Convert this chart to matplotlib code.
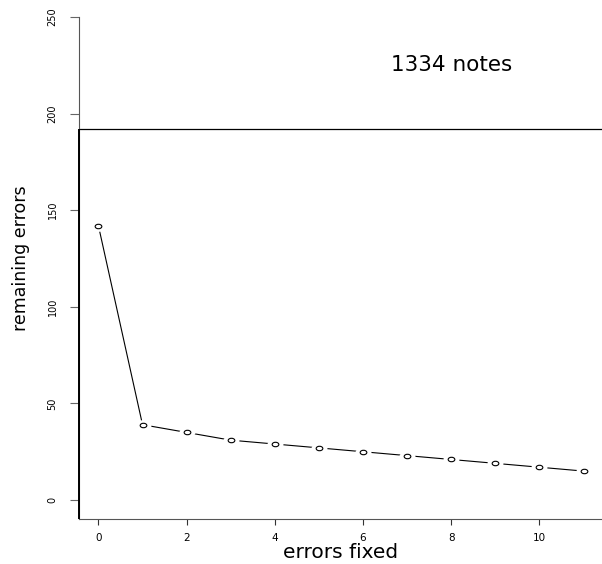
import matplotlib
matplotlib.use("Agg")
import matplotlib.pyplot as plt
from matplotlib.path import Path
from matplotlib.transforms import Affine2D

# ---- data ----
errors_fixed = [0, 1, 2, 3, 4, 5, 6, 7, 8, 9, 10, 11]
remaining_errors = [142, 39, 35, 31, 29, 27, 25, 23, 21, 19, 17, 15]
reference_level = 192
annotation = "1334 notes"
annotation_pos = (8, 225)
x_ticks = [0, 2, 4, 6, 8, 10]
y_ticks = [0, 50, 100, 150, 200, 250]
x_label = "errors fixed"
y_label = "remaining errors"

plt.rcParams['font.family'] = ['DejaVu Sans']

fig = plt.figure(figsize=(6.02, 5.64), dpi=100)
W, H = 602, 564
left_px, right_px, top_px, bottom_px = 79, 603, 17, 519
ax = fig.add_axes([left_px / W, 1 - bottom_px / H,
                   (right_px - left_px) / W, (bottom_px - top_px) / H])

xlim = (-0.44, 11.44)
ylim = (-9.8, 250)
ax.set_xlim(*xlim)
ax.set_ylim(*ylim)

ellipse = Path.unit_circle().transformed(Affine2D().scale(1.5, 1.0))

# connecting line (R type="b": gaps around points)
ax.plot(errors_fixed, remaining_errors, color='black', lw=0.8, zorder=2)
ax.plot(errors_fixed, remaining_errors, linestyle='none', marker=ellipse,
        markersize=11.5, markerfacecolor='white', markeredgewidth=0, zorder=3)
ax.plot(errors_fixed, remaining_errors, linestyle='none', marker=ellipse,
        markersize=4.8, markerfacecolor='white', markeredgecolor='black',
        markeredgewidth=0.8, zorder=4)

ax.axhline(reference_level, color='black', lw=0.9, zorder=2)
ax.plot([xlim[0], xlim[0]], [ylim[0], reference_level], color='black',
        lw=1.4, zorder=5, clip_on=False, solid_capstyle='butt')

ax.text(annotation_pos[0], annotation_pos[1], annotation, ha='center',
        va='center', fontsize=15.5)

for s in ['top', 'right']:
    ax.spines[s].set_visible(False)
for s in ['left', 'bottom']:
    ax.spines[s].set_color('#555555')
    ax.spines[s].set_linewidth(0.8)

ax.set_xticks(x_ticks)
ax.set_yticks(y_ticks)
ax.tick_params(axis='x', length=4.3, width=0.8, color='#333333', pad=5.5,
               labelsize=7.5)
ax.tick_params(axis='y', length=6.5, width=0.8, color='#666666', pad=9,
               labelsize=7)
for lab in ax.get_yticklabels():
    lab.set_rotation(90)
    lab.set_va('center')

ax.set_xlabel(x_label, fontsize=14.5, labelpad=0.5)
ax.set_ylabel(y_label, fontsize=12.5)
ax.yaxis.label.set_rotation_mode('default')
ax.yaxis.label.set_va('center')
ax.yaxis.label.set_ha('center')
ax.yaxis.set_label_coords(21 / W, 1 - 258 / H, transform=fig.transFigure)

fig.savefig("out.png", dpi=100)
